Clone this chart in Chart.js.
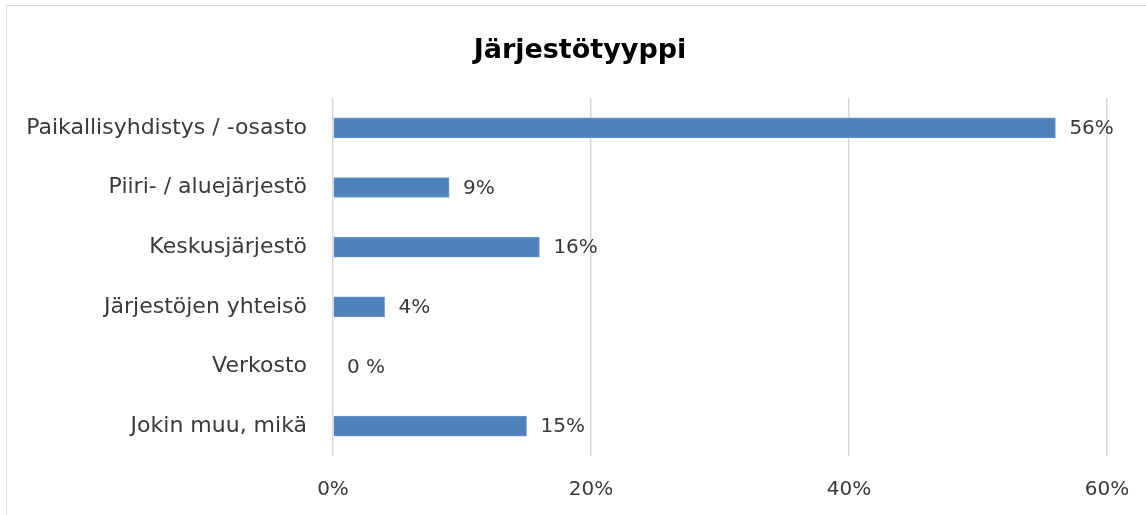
<!DOCTYPE html>
<html>
<head>
<meta charset="utf-8">
<script src="https://cdn.jsdelivr.net/npm/chart.js@4.4.0/dist/chart.umd.min.js"></script>
<style>
    html, body { margin: 0; padding: 0; background: #fff; }
    #wrap { position: relative; width: 1146px; height: 515px; overflow: hidden; }
    #frame { position: absolute; left: 6px; top: 5px; width: 1160px; height: 530px; border: 1px solid #d9d9d9; box-sizing: border-box; }
    #myChart { position: absolute; left: 0; top: 0; }
</style>
</head>
<body>
<div id="wrap">
    <div id="frame"></div>
    <canvas id="myChart" width="1146" height="515"></canvas>
</div>
<script>
const categories = ['Paikallisyhdistys / -osasto', 'Piiri- / aluejärjestö', 'Keskusjärjestö', 'Järjestöjen yhteisö', 'Verkosto', 'Jokin muu, mikä'];
const shares = [56, 9, 16, 4, 0, 15];
const valueLabels = ['56%', '9%', '16%', '4%', '0 %', '15%'];
const xTicks = [0, 20, 40, 60];
const chartTitle = 'Järjestötyyppi';

const FONT = "'DejaVu Sans', Verdana, sans-serif";

// draws the value text just right of each bar end
const barLabels = {
    id: 'barLabels',
    afterDatasetsDraw(chart) {
        const ctx = chart.ctx;
        const meta = chart.getDatasetMeta(0);
        ctx.save();
        ctx.font = '20px ' + FONT;
        ctx.fillStyle = '#3a3a3a';
        ctx.textAlign = 'left';
        ctx.textBaseline = 'middle';
        meta.data.forEach((bar, i) => {
            ctx.fillText(valueLabels[i], bar.x + 14, bar.y + 1);
        });
        ctx.restore();
    }
};

// title sits a bit right of the canvas centre, like the original
const titleText = {
    id: 'titleText',
    afterDraw(chart) {
        const ctx = chart.ctx;
        ctx.save();
        ctx.font = 'bold 27px ' + FONT;
        ctx.fillStyle = '#000';
        ctx.textAlign = 'center';
        ctx.textBaseline = 'middle';
        ctx.fillText(chartTitle, 580, 51);
        ctx.restore();
    }
};

const config = {
    type: 'bar',
    data: {
        labels: categories,
        datasets: [{
            data: shares,
            backgroundColor: '#4f81bd',
            borderColor: '#6b97cc',
            borderWidth: 1,
            barThickness: 20
        }]
    },
    options: {
        indexAxis: 'y',
        responsive: false,
        animation: false,
        layout: {
            padding: { left: 0, right: 39, top: 98, bottom: 0 }
        },
        scales: {
            x: {
                min: 0,
                max: 60,
                afterBuildTicks(axis) {
                    axis.ticks = xTicks.map(v => ({ value: v }));
                },
                afterFit(axis) {
                    axis.height = 59;
                    axis.paddingLeft = 0;
                    axis.paddingRight = 0;
                },
                ticks: {
                    callback: v => v + '%',
                    color: '#3a3a3a',
                    font: { family: FONT, size: 20 },
                    padding: 22,
                    maxRotation: 0
                },
                grid: {
                    color: '#d9d9d9',
                    lineWidth: 1.5,
                    drawTicks: false
                },
                border: { display: false }
            },
            y: {
                afterFit(axis) {
                    axis.width = 333;
                },
                ticks: {
                    color: '#3a3a3a',
                    font: { family: FONT, size: 22 },
                    padding: 26
                },
                grid: { display: false, drawTicks: false },
                border: { display: false }
            }
        },
        plugins: {
            legend: { display: false },
            tooltip: { enabled: false },
            title: { display: false }
        }
    },
    plugins: [barLabels, titleText]
};

const ctx = document.getElementById('myChart').getContext('2d');
new Chart(ctx, config);
</script>
</body>
</html>
